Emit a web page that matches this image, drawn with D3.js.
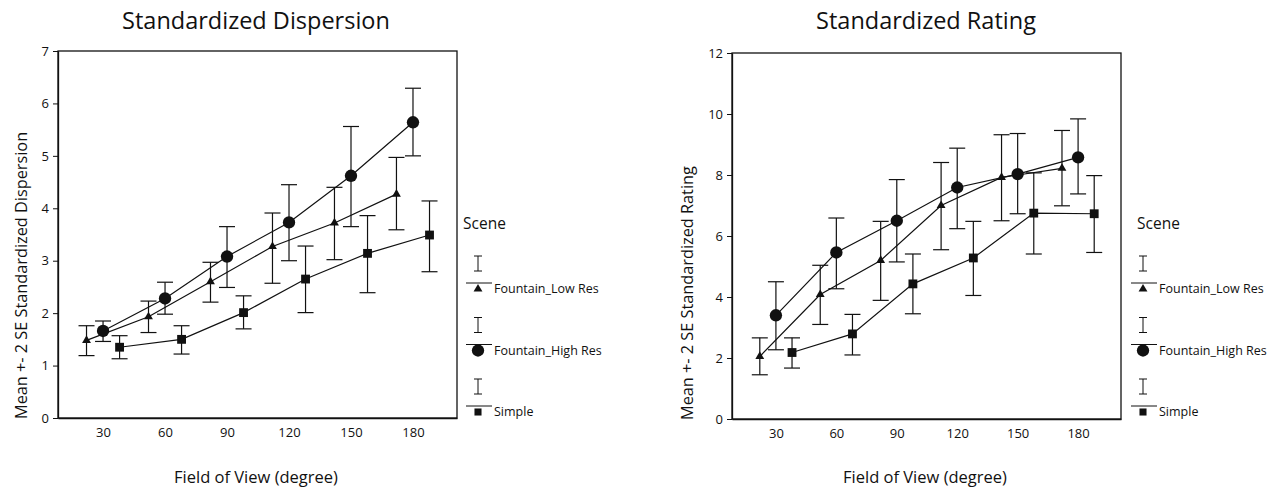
<!DOCTYPE html>
<html><head><meta charset="utf-8">
<script src="https://cdn.jsdelivr.net/npm/d3@7"></script>
<style>
body{margin:0;background:#fff;}
svg{display:block;font-family:"Open Sans",sans-serif;}
</style></head>
<body><svg id="chart" width="1275" height="490"></svg>
<script>
// ---- data ----
const seriesNames = ["Fountain_Low Res", "Fountain_High Res", "Simple"];
const xTicks = [30, 60, 90, 120, 150, 180];
const lowResX = [22, 52, 82, 112, 142, 172];
const highResX = [30, 60, 90, 120, 150, 180];
const simpleX = [38, 68, 98, 128, 158, 188];

// Standardized Dispersion
const dispTicks = [0, 1, 2, 3, 4, 5, 6, 7];
const dispLowMean = [1.48, 1.93, 2.60, 3.27, 3.72, 4.27];
const dispLowLo = [1.19, 1.63, 2.21, 2.57, 3.02, 3.59];
const dispLowHi = [1.76, 2.23, 2.97, 3.91, 4.40, 4.97];
const dispHighMean = [1.66, 2.28, 3.08, 3.73, 4.62, 5.64];
const dispHighLo = [1.46, 1.98, 2.49, 3.00, 3.65, 5.00];
const dispHighHi = [1.85, 2.59, 3.65, 4.45, 5.56, 6.29];
const dispSimpleMean = [1.35, 1.50, 2.01, 2.65, 3.14, 3.49];
const dispSimpleLo = [1.13, 1.22, 1.70, 2.01, 2.39, 2.79];
const dispSimpleHi = [1.57, 1.76, 2.33, 3.28, 3.86, 4.14];

// Standardized Rating
const rateTicks = [0, 2, 4, 6, 8, 10, 12];
const rateLowMean = [2.05, 4.08, 5.20, 7.00, 7.92, 8.22];
const rateLowLo = [1.45, 3.10, 3.89, 5.55, 6.50, 6.99];
const rateLowHi = [2.66, 5.04, 6.48, 8.41, 9.32, 9.46];
const rateHighMean = [3.40, 5.46, 6.50, 7.59, 8.03, 8.58];
const rateHighLo = [2.27, 4.27, 5.15, 6.24, 6.73, 7.38];
const rateHighHi = [4.50, 6.59, 7.85, 8.88, 9.36, 9.84];
const rateSimpleMean = [2.18, 2.79, 4.43, 5.28, 6.75, 6.73];
const rateSimpleLo = [1.67, 2.10, 3.45, 4.05, 5.41, 5.46];
const rateSimpleHi = [2.66, 3.43, 5.41, 6.48, 8.07, 7.98];

const markerTypes = ["triangle", "circle", "square"];

function build(xs, m, lo, hi) {
  return xs.map((x, i) => ({x, m: m[i], lo: lo[i], hi: hi[i]}));
}

const svg = d3.select("#chart");

function markerPath(type) {
  if (type === "triangle") return d3.symbol().type(d3.symbolTriangle).size(34)();
  if (type === "circle") return d3.symbol().type(d3.symbolCircle).size(120)();
  return d3.symbol().type(d3.symbolSquare).size(78)();
}

function drawPanel(cfg) {
  const g = svg.append("g");
  const x = d3.scaleLinear().domain([8.2, 201.3]).range([cfg.left, cfg.right]);
  const y = d3.scaleLinear().domain([0, cfg.ymax]).range([cfg.bottom, cfg.top]);

  // title
  g.append("text").attr("x", cfg.titleX).attr("y", 29).attr("text-anchor", "middle")
    .attr("font-size", 23.5).attr("fill", "#111").text(cfg.title);

  // frame
  g.append("rect").attr("x", cfg.left).attr("y", cfg.top)
    .attr("width", cfg.right - cfg.left).attr("height", cfg.bottom - cfg.top)
    .attr("fill", "none").attr("stroke", "#111").attr("stroke-width", 1.3);

  // axes
  const yAxis = d3.axisLeft(y).tickValues(cfg.yticks).tickFormat(d3.format("d"))
    .tickSize(5).tickSizeOuter(0).tickPadding(4);
  const ya = g.append("g").attr("transform", `translate(${cfg.left},0)`).call(yAxis);
  const xAxis = d3.axisBottom(x).tickValues(xTicks).tickSize(0).tickSizeOuter(0).tickPadding(10);
  const xa = g.append("g").attr("transform", `translate(0,${cfg.bottom})`).call(xAxis);
  [ya, xa].forEach(a => {
    a.select(".domain").attr("stroke", "#111").attr("stroke-width", 1.3);
    a.selectAll(".tick line").attr("stroke", "#111");
    a.selectAll(".tick text").attr("font-size", 13).attr("fill", "#111")
      .attr("font-family", "'Open Sans',sans-serif");
  });

  // axis labels
  g.append("text").attr("transform", `translate(${cfg.ylabX},${cfg.bottom + 1}) rotate(-90)`)
    .attr("text-anchor", "start").attr("font-size", 16.3).attr("fill", "#111").text(cfg.ylabel);
  g.append("text").attr("x", cfg.xlabX).attr("y", 483).attr("text-anchor", "middle")
    .attr("font-size", 16.5).attr("fill", "#111").text("Field of View (degree)");

  const line = d3.line().x(d => x(d.x)).y(d => y(d.m));
  cfg.series.forEach((s, si) => {
    const sg = g.append("g");
    // error bars
    const eb = sg.selectAll("g.eb").data(s).join("g");
    eb.append("line").attr("x1", d => x(d.x)).attr("x2", d => x(d.x))
      .attr("y1", d => y(d.lo)).attr("y2", d => y(d.hi)).attr("stroke", "#111").attr("stroke-width", 1.2);
    eb.append("line").attr("x1", d => x(d.x) - 8).attr("x2", d => x(d.x) + 8)
      .attr("y1", d => y(d.hi)).attr("y2", d => y(d.hi)).attr("stroke", "#111").attr("stroke-width", 1.2);
    eb.append("line").attr("x1", d => x(d.x) - 8).attr("x2", d => x(d.x) + 8)
      .attr("y1", d => y(d.lo)).attr("y2", d => y(d.lo)).attr("stroke", "#111").attr("stroke-width", 1.2);
    // line
    sg.append("path").datum(s).attr("d", line).attr("fill", "none").attr("stroke", "#111").attr("stroke-width", 1.2);
    // markers
    sg.selectAll("path.mk").data(s).join("path").attr("class", "mk")
      .attr("d", markerPath(markerTypes[si]))
      .attr("transform", d => `translate(${x(d.x)},${y(d.m)})`).attr("fill", "#111");
  });

  // legend
  const lg = g.append("g");
  lg.append("text").attr("x", cfg.legX).attr("y", 229).attr("font-size", 15.5).attr("fill", "#111").text("Scene");
  seriesNames.forEach((name, i) => {
    const base = 283 + i * 61.5;
    const cx = cfg.legLine0 + 12;
    lg.append("line").attr("x1", cx).attr("x2", cx).attr("y1", base - 27).attr("y2", base - 12).attr("stroke", "#111");
    lg.append("line").attr("x1", cx - 4).attr("x2", cx + 4).attr("y1", base - 27).attr("y2", base - 27).attr("stroke", "#111");
    lg.append("line").attr("x1", cx - 4).attr("x2", cx + 4).attr("y1", base - 12).attr("y2", base - 12).attr("stroke", "#111");
    lg.append("line").attr("x1", cfg.legLine0).attr("x2", cfg.legLine0 + 26).attr("y1", base).attr("y2", base).attr("stroke", "#111");
    lg.append("path").attr("d", markerPath(markerTypes[i]))
      .attr("transform", `translate(${cx},${base + 6}) scale(${i === 2 ? 0.8 : 1})`).attr("fill", "#111");
    lg.append("text").attr("x", cfg.legLine0 + 28).attr("y", base + 10).attr("font-size", 12.5)
      .attr("fill", "#111").text(name);
  });
}

drawPanel({
  title: "Standardized Dispersion", titleX: 256,
  left: 58, right: 457, top: 51, bottom: 418, ymax: 7, yticks: dispTicks,
  ylabel: "Mean +- 2 SE Standardized Dispersion", ylabX: 27, xlabX: 256,
  legX: 463, legLine0: 466,
  series: [build(lowResX, dispLowMean, dispLowLo, dispLowHi),
           build(highResX, dispHighMean, dispHighLo, dispHighHi),
           build(simpleX, dispSimpleMean, dispSimpleLo, dispSimpleHi)]
});

drawPanel({
  title: "Standardized Rating", titleX: 926,
  left: 732, right: 1121, top: 53, bottom: 419, ymax: 12, yticks: rateTicks,
  ylabel: "Mean +- 2 SE Standardized Rating", ylabX: 693, xlabX: 925,
  legX: 1137, legLine0: 1131,
  series: [build(lowResX, rateLowMean, rateLowLo, rateLowHi),
           build(highResX, rateHighMean, rateHighLo, rateHighHi),
           build(simpleX, rateSimpleMean, rateSimpleLo, rateSimpleHi)]
});
</script></body></html>
